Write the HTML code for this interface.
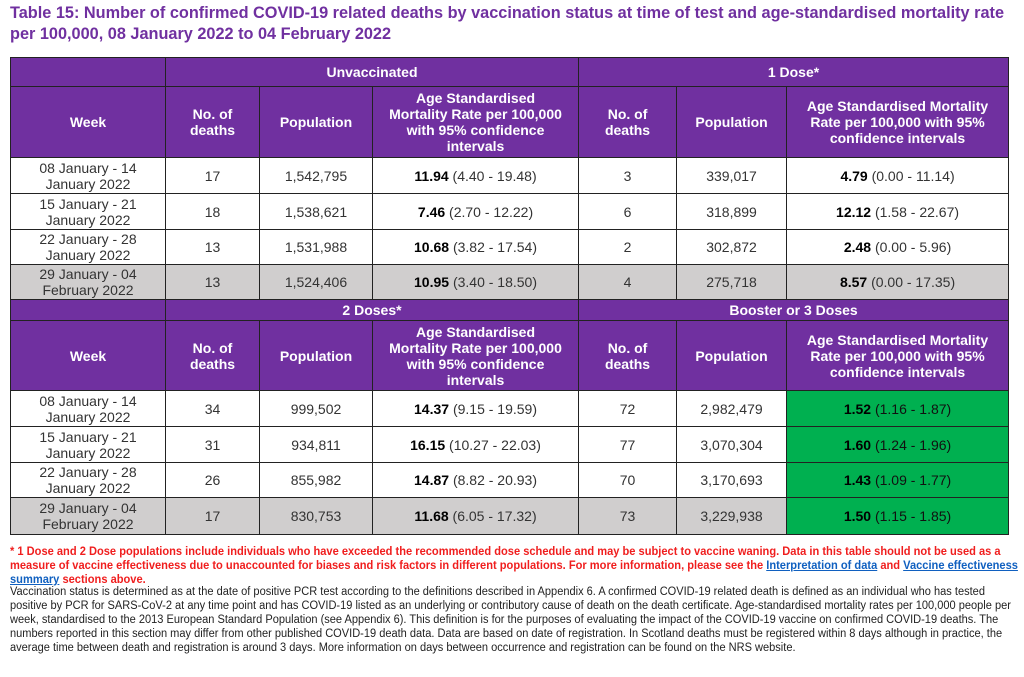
<!DOCTYPE html>
<html><head><meta charset="utf-8"><style>
body{margin:0;width:1024px;height:677px;background:#fff;font-family:"Liberation Sans",Arial,sans-serif;position:relative;overflow:hidden}
h1{position:absolute;left:10px;top:3px;margin:0;font-size:16.3px;line-height:21px;color:#7030a0;font-weight:bold;width:1010px}
table{position:absolute;left:10px;border-collapse:collapse;table-layout:fixed;width:998px}
td{border:1.5px solid #222;text-align:center;vertical-align:middle;font-size:14px;color:#333;padding:0;line-height:16px}
td.h{background:#7030a0;color:#fff;font-weight:bold;font-size:14px}
tr.g td{background:#d0cece}
td.gr{background:#00b050 !important;color:#111}
b{color:#000}
.fn{position:absolute;left:10px;white-space:nowrap;transform-origin:0 0;font-size:12px}
.r{color:#f01e1e;font-weight:bold}
.k{color:#222;font-size:11.5px}
a{color:#1060c0;text-decoration:underline}
</style></head><body>
<h1>Table 15: Number of confirmed COVID-19 related deaths by vaccination status at time of test and age-standardised mortality rate per 100,000, 08 January 2022 to 04 February 2022</h1>

<table style="top:57px">
<colgroup><col style="width:155px"><col style="width:94px"><col style="width:113px"><col style="width:206px"><col style="width:98px"><col style="width:110px"><col style="width:222px"></colgroup>
<tr style="height:29px"><td class="h"></td><td class="h" colspan="3">Unvaccinated</td><td class="h" colspan="3">1 Dose*</td></tr>
<tr style="height:71px"><td class="h">Week</td><td class="h">No. of<br>deaths</td><td class="h">Population</td><td class="h">Age Standardised<br>Mortality Rate per 100,000<br>with 95% confidence<br>intervals</td><td class="h">No. of<br>deaths</td><td class="h">Population</td><td class="h">Age Standardised Mortality<br>Rate per 100,000 with 95%<br>confidence intervals</td></tr>
<tr style="height:36px"><td>08 January - 14<br>January 2022</td><td>17</td><td>1,542,795</td><td><b>11.94</b> (4.40 - 19.48)</td><td>3</td><td>339,017</td><td><b>4.79</b> (0.00 - 11.14)</td></tr>
<tr style="height:36px"><td>15 January - 21<br>January 2022</td><td>18</td><td>1,538,621</td><td><b>7.46</b> (2.70 - 12.22)</td><td>6</td><td>318,899</td><td><b>12.12</b> (1.58 - 22.67)</td></tr>
<tr style="height:35px"><td>22 January - 28<br>January 2022</td><td>13</td><td>1,531,988</td><td><b>10.68</b> (3.82 - 17.54)</td><td>2</td><td>302,872</td><td><b>2.48</b> (0.00 - 5.96)</td></tr>
<tr class="g" style="height:35px"><td>29 January - 04<br>February 2022</td><td>13</td><td>1,524,406</td><td><b>10.95</b> (3.40 - 18.50)</td><td>4</td><td>275,718</td><td><b>8.57</b> (0.00 - 17.35)</td></tr>
</table>

<table style="top:299px">
<colgroup><col style="width:155px"><col style="width:94px"><col style="width:113px"><col style="width:206px"><col style="width:98px"><col style="width:110px"><col style="width:222px"></colgroup>
<tr style="height:21px"><td class="h"></td><td class="h" colspan="3">2 Doses*</td><td class="h" colspan="3">Booster or 3 Doses</td></tr>
<tr style="height:70px"><td class="h">Week</td><td class="h">No. of<br>deaths</td><td class="h">Population</td><td class="h">Age Standardised<br>Mortality Rate per 100,000<br>with 95% confidence<br>intervals</td><td class="h">No. of<br>deaths</td><td class="h">Population</td><td class="h">Age Standardised Mortality<br>Rate per 100,000 with 95%<br>confidence intervals</td></tr>
<tr style="height:36px"><td>08 January - 14<br>January 2022</td><td>34</td><td>999,502</td><td><b>14.37</b> (9.15 - 19.59)</td><td>72</td><td>2,982,479</td><td class="gr"><b>1.52</b> (1.16 - 1.87)</td></tr>
<tr style="height:36px"><td>15 January - 21<br>January 2022</td><td>31</td><td>934,811</td><td><b>16.15</b> (10.27 - 22.03)</td><td>77</td><td>3,070,304</td><td class="gr"><b>1.60</b> (1.24 - 1.96)</td></tr>
<tr style="height:35px"><td>22 January - 28<br>January 2022</td><td>26</td><td>855,982</td><td><b>14.87</b> (8.82 - 20.93)</td><td>70</td><td>3,170,693</td><td class="gr"><b>1.43</b> (1.09 - 1.77)</td></tr>
<tr class="g" style="height:37px"><td>29 January - 04<br>February 2022</td><td>17</td><td>830,753</td><td><b>11.68</b> (6.05 - 17.32)</td><td>73</td><td>3,229,938</td><td class="gr"><b>1.50</b> (1.15 - 1.85)</td></tr>
</table>

<div>
<div class="fn r" style="top:544px;transform:scaleX(0.925)">* 1 Dose and 2 Dose populations include individuals who have exceeded the recommended dose schedule and may be subject to vaccine waning. Data in this table should not be used as a</div>
<div class="fn r" style="top:558px;transform:scaleX(0.925)">measure of vaccine effectiveness due to unaccounted for biases and risk factors in different populations. For more information, please see the <a>Interpretation of data</a> and <a>Vaccine effectiveness</a></div>
<div class="fn r" style="top:572px;transform:scaleX(0.925)"><a>summary</a> sections above.</div>
<div class="fn k" style="top:586px;transform:scaleX(0.96)">Vaccination status is determined as at the date of positive PCR test according to the definitions described in Appendix 6. A confirmed COVID-19 related death is defined as an individual who has tested</div>
<div class="fn k" style="top:600px;transform:scaleX(0.96)">positive by PCR for SARS-CoV-2 at any time point and has COVID-19 listed as an underlying or contributory cause of death on the death certificate. Age-standardised mortality rates per 100,000 people per</div>
<div class="fn k" style="top:614px;transform:scaleX(0.96)">week, standardised to the 2013 European Standard Population (see Appendix 6). This definition is for the purposes of evaluating the impact of the COVID-19 vaccine on confirmed COVID-19 deaths. The</div>
<div class="fn k" style="top:628px;transform:scaleX(0.96)">numbers reported in this section may differ from other published COVID-19 death data. Data are based on date of registration. In Scotland deaths must be registered within 8 days although in practice, the</div>
<div class="fn k" style="top:642px;transform:scaleX(0.96)">average time between death and registration is around 3 days. More information on days between occurrence and registration can be found on the NRS website.</div>
</div>
</body></html>
